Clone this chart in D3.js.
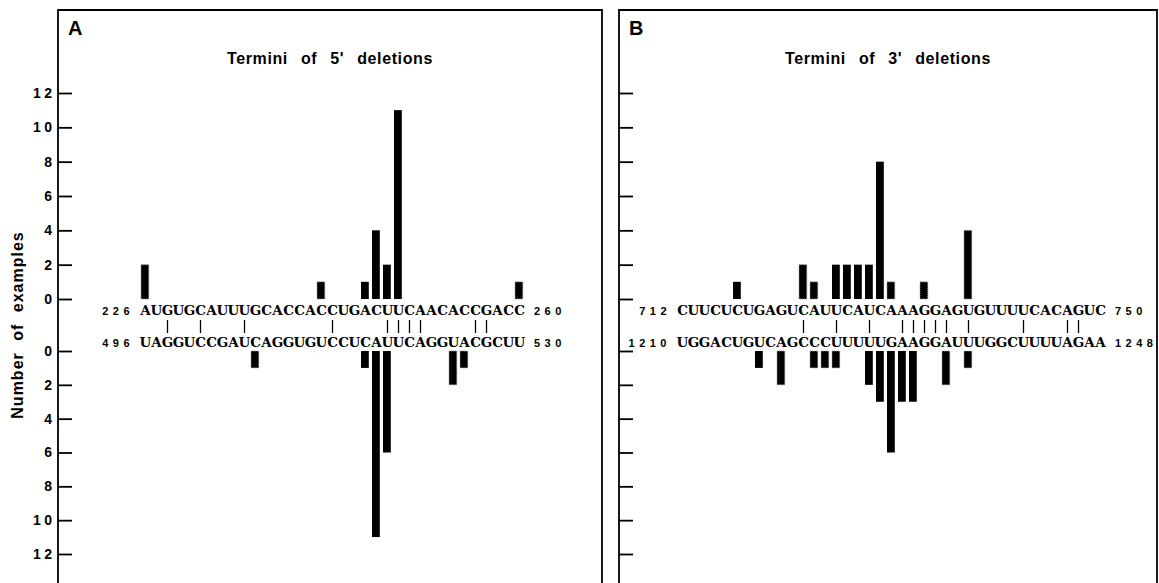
<!DOCTYPE html>
<html>
<head>
<meta charset="UTF-8">
<script src="https://d3js.org/d3.v7.min.js"></script>
<style>body{margin:0;background:#fff}</style>
</head>
<body>
<svg></svg>
<script>
const width = 1159, height = 583;

// panel A : termini of 5' deletions
const seqA1 = "AUGUGCAUUUGCACCACCUGACUUCAACACCGACC";
const seqA2 = "UAGGUCCGAUCAGGUGUCCUCAUUCAGGUACGCUU";
const numsA = ["226", "260", "496", "530"];
const pairsA = [2, 5, 9, 17, 22, 23, 24, 25, 30, 31];
// [position, number of examples, kind]  kind "h" = stippled bar
const upA = [[0, 2, "h"], [16, 1, "h"], [20, 1, "s"], [21, 4, "s"], [22, 2, "s"], [23, 11, "s"], [34, 1, "h"]];
const downA = [[10, 1, "h"], [20, 1, "s"], [21, 11, "s"], [22, 6, "s"], [28, 2, "h"], [29, 1, "h"]];

// panel B : termini of 3' deletions
const seqB1 = "CUUCUCUGAGUCAUUCAUCAAAGGAGUGUUUUCACAGUC";
const seqB2 = "UGGACUGUCAGCCCUUUUUGAAGGAUUUGGCUUUUAGAA";
const numsB = ["712", "750", "1210", "1248"];
const pairsB = [11, 14, 17, 20, 21, 22, 23, 24, 26, 31, 35, 36];
const upB = [[5, 1, "s"], [11, 2, "h"], [12, 1, "h"], [14, 2, "s"], [15, 2, "s"], [16, 2, "s"], [17, 2, "s"],
             [18, 8, "s"], [19, 1, "h"], [22, 1, "h"], [26, 4, "h"]];
const downB = [[7, 1, "s"], [9, 2, "h"], [12, 1, "h"], [13, 1, "h"], [14, 1, "h"], [17, 2, "s"], [18, 3, "s"],
               [19, 6, "s"], [20, 3, "s"], [21, 3, "s"], [24, 2, "h"], [26, 1, "h"]];

const yTicks = [0, 2, 4, 6, 8, 10, 12];
const titles = ["Termini of 5' deletions", "Termini of 3' deletions"];
const letters = ["A", "B"];

const svg = d3.select("svg")
    .attr("width", width)
    .attr("height", height)
    .attr("viewBox", [0, 0, width, height])
    .style("font-family", "'Liberation Sans', Arial, sans-serif");

const yUp = d3.scaleLinear().domain([0, 12]).range([299, 93]);
const yDown = d3.scaleLinear().domain([0, 12]).range([351, 554]);

function panel(p) {
  const g = svg.append("g");
  const x = d3.scaleBand()
      .domain(d3.range(p.seq1.length))
      .range([p.seqX, p.seqX + 11 * p.seq1.length]);
  const bw = x.bandwidth();

  // frame
  g.append("path")
      .attr("d", `M${p.left},${height + 2}V10H${p.right}V${height + 2}`)
      .attr("fill", "none")
      .attr("stroke", "#000")
      .attr("stroke-width", 1.8);

  g.append("text")
      .attr("x", p.left + 10)
      .attr("y", 35)
      .attr("font-size", 20)
      .attr("font-weight", "bold")
      .text(p.letter);

  g.append("text")
      .attr("x", (p.left + p.right) / 2)
      .attr("y", 64)
      .attr("text-anchor", "middle")
      .attr("font-size", 16)
      .attr("font-weight", "bold")
      .attr("letter-spacing", 0.6)
      .attr("word-spacing", 8)
      .text(p.title);

  // axes, ticks pointing into the panel
  [yUp, yDown].forEach(y => {
    g.append("g")
        .attr("transform", `translate(${p.left},0)`)
        .call(d3.axisLeft(y).tickValues(yTicks).tickSizeInner(-14).tickSizeOuter(0)
            .tickPadding(p.labels ? 6 : 0)
            .tickFormat(p.labels ? d3.format("d") : ""))
        .call(a => a.select(".domain").remove())
        .call(a => a.selectAll(".tick line").attr("stroke-width", 1.8))
        .call(a => a.selectAll(".tick text")
            .attr("font-size", 14)
            .attr("font-weight", "bold")
            .attr("letter-spacing", 3.5)
            .attr("dx", 3.5)
            .attr("fill", "#000"));
  });

  // bars
  const bar = (data, up) => g.append("g")
    .selectAll("rect")
    .data(data)
    .join("rect")
      .attr("x", d => x(d[0]) + 1)
      .attr("width", 7.8)
      .attr("y", d => up ? yUp(d[1]) : yDown(0))
      .attr("height", d => up ? yUp(0) - yUp(d[1]) : yDown(d[1]) - yDown(0))
      .attr("fill", "#000")
      .attr("stroke", d => d[2] === "h" ? "#9a9a9a" : "none")
      .attr("stroke-width", 1)
      .attr("stroke-dasharray", "1 1");
  bar(p.up, true);
  bar(p.down, false);

  // sequences
  [[p.seq1, 314.5], [p.seq2, 346.5]].forEach(([s, yb]) => {
    g.append("g")
        .attr("font-family", "'DejaVu Serif', serif")
        .attr("font-weight", "bold")
        .attr("font-size", 13.5)
        .attr("text-anchor", "middle")
      .selectAll("text")
      .data(s.split(""))
      .join("text")
        .attr("x", (d, i) => x(i) + bw / 2)
        .attr("y", yb)
        .text(d => d);
  });

  // identical positions
  g.append("g")
      .attr("stroke", "#000")
      .attr("stroke-width", 1.3)
    .selectAll("line")
    .data(p.pairs)
    .join("line")
      .attr("x1", d => x(d) + bw / 2)
      .attr("x2", d => x(d) + bw / 2)
      .attr("y1", 320)
      .attr("y2", 333);

  // numbering
  const end = p.seqX + 11 * p.seq1.length;
  const num = g.append("g")
      .attr("font-size", 11)
      .attr("font-weight", "bold")
      .attr("letter-spacing", 4.5);
  [[p.nums[0], 314.5], [p.nums[2], 346.5]].forEach(([t, yb]) => {
    num.append("text").attr("x", p.seqX - 6).attr("y", yb)
        .attr("text-anchor", "end").text(t);
  });
  [[p.nums[1], 314.5], [p.nums[3], 346.5]].forEach(([t, yb]) => {
    num.append("text").attr("x", end + 9).attr("y", yb).text(t);
  });
}

panel({left: 58, right: 602, seqX: 140, labels: true, letter: letters[0], title: titles[0],
       seq1: seqA1, seq2: seqA2, nums: numsA, pairs: pairsA, up: upA, down: downA});
panel({left: 619, right: 1157, seqX: 677, labels: false, letter: letters[1], title: titles[1],
       seq1: seqB1, seq2: seqB2, nums: numsB, pairs: pairsB, up: upB, down: downB});

svg.append("text")
    .attr("transform", "translate(23,325) rotate(-90)")
    .attr("text-anchor", "middle")
    .attr("font-size", 16)
    .attr("font-weight", "bold")
    .attr("letter-spacing", 1)
    .attr("word-spacing", 6)
    .text("Number of examples");
</script>
</body>
</html>
